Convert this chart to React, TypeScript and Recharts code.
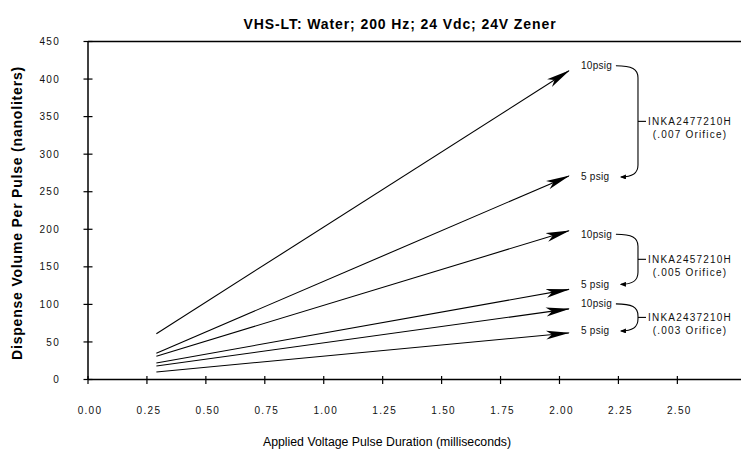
import { Line, LineChart, ReferenceArea, ReferenceLine, XAxis, YAxis } from "recharts";

// pulse duration (ms) at the start of each line and at the arrow tip
const durations = [0.29, 2.04];

// dispense volume (nL) per orifice / pressure
const orifice007_10psig = [61, 411];
const orifice007_5psig = [35, 271];
const orifice005_10psig = [31, 198];
const orifice005_5psig = [22, 120];
const orifice003_10psig = [18, 94];
const orifice003_5psig = [10, 62];

const xTicks = [0, 0.25, 0.5, 0.75, 1, 1.25, 1.5, 1.75, 2, 2.25, 2.5];
const yTicks = [0, 50, 100, 150, 200, 250, 300, 350, 400, 450];

const seriesKeys = ["o007_10", "o007_5", "o005_10", "o005_5", "o003_10", "o003_5"];

const data = durations.map((d, i) => ({
  duration: d,
  o007_10: orifice007_10psig[i],
  o007_5: orifice007_5psig[i],
  o005_10: orifice005_10psig[i],
  o005_5: orifice005_5psig[i],
  o003_10: orifice003_10psig[i],
  o003_5: orifice003_5psig[i],
}));

const groups = [
  { part: "INKA2477210H", orifice: "(.007 Orifice)", top: orifice007_10psig, bottom: orifice007_5psig, nudgeTop: -5, nudgeBottom: 1 },
  { part: "INKA2457210H", orifice: "(.005 Orifice)", top: orifice005_10psig, bottom: orifice005_5psig, nudgeTop: 3.5, nudgeBottom: -5 },
  { part: "INKA2437210H", orifice: "(.003 Orifice)", top: orifice003_10psig, bottom: orifice003_5psig, nudgeTop: -5, nudgeBottom: -2 },
];

const FONT = '"Liberation Sans", Arial, Helvetica, sans-serif';
const braceX = 2.333;
const last = durations.length - 1;

function YTick(props: any) {
  const { x, y, payload } = props;
  return (
    <g>
      <line x1={x - 4.5} x2={x + 4.5} y1={y} y2={y} stroke="#000" strokeWidth={1.2} />
      <text x={x - 28} y={y} dy={3.6} textAnchor="end" fontSize={10} letterSpacing={1.3} fill="#111" fontFamily={FONT}>
        {payload.value}
      </text>
    </g>
  );
}

function XTick(props: any) {
  const { x, y, payload } = props;
  return (
    <g>
      <line x1={x} x2={x} y1={y - 3.5} y2={y + 4.5} stroke="#000" strokeWidth={1.2} />
      <text x={x + 2} y={y + 34.5} textAnchor="middle" fontSize={10} letterSpacing={1.3} fill="#111" fontFamily={FONT}>
        {payload.value.toFixed(2)}
      </text>
    </g>
  );
}

function makeBrace(g: (typeof groups)[number]) {
  return (props: any) => {
    const { x, y, width, height } = props;
    const ty = y + g.nudgeTop;
    const by = y + height + g.nudgeBottom;
    const bx = x + width;
    const my = (ty + by) / 2;
    const r = Math.min(12, (by - ty) / 2);
    const lx = x + 12;
    const d =
      `M${x + 47},${ty} C${bx - 6},${ty} ${bx},${ty + 3} ${bx},${ty + r} ` +
      `L${bx},${by - r} C${bx},${by - 3} ${bx - 6},${by} ${x + 52},${by}`;
    return (
      <g fontFamily={FONT} fill="#111">
        <text x={lx} y={ty} dy={3.5} fontSize={10} letterSpacing={0.3}>10psig</text>
        <text x={lx} y={by} dy={3.5} fontSize={10} letterSpacing={0.3}>5 psig</text>
        <path d={d} fill="none" stroke="#000" strokeWidth={1.1} markerEnd="url(#braceArrow)" />
        <line x1={bx} x2={bx + 8} y1={my} y2={my} stroke="#000" strokeWidth={1.1} />
        <text x={bx + 52} y={my} dy={3.5} fontSize={10} letterSpacing={1.2} textAnchor="middle">{g.part}</text>
        <text x={bx + 52} y={my + 13} dy={3.5} fontSize={10} letterSpacing={1.2} textAnchor="middle">{g.orifice}</text>
      </g>
    );
  };
}

export default function App() {
  return (
    <div style={{ position: "absolute", left: 0, top: 0, width: 741, height: 449, background: "#fff" }}>
      <svg width={0} height={0} style={{ position: "absolute" }}>
        <defs>
          <marker id="arrowHead" viewBox="0 0 24 10" markerWidth={24} markerHeight={10} refX={23} refY={5} orient="auto" markerUnits="userSpaceOnUse">
            <path d="M0,0.5 L24,5 L0,9.5 L6,5 Z" fill="#000" />
          </marker>
          <marker id="braceArrow" viewBox="0 0 6 5" markerWidth={6} markerHeight={5} refX={5} refY={2.5} orient="auto" markerUnits="userSpaceOnUse">
            <path d="M0,0 L6,2.5 L0,5 Z" fill="#000" />
          </marker>
        </defs>
      </svg>
      <LineChart width={741} height={449} data={data} margin={{ top: 41.5, right: 0, bottom: 0, left: 0 }}>
        <text x={400} y={28.5} textAnchor="middle" fontSize={14} fontWeight="bold" letterSpacing={0.9} fontFamily={FONT} fill="#000">
          VHS-LT: Water; 200 Hz; 24 Vdc; 24V Zener
        </text>
        <text transform="translate(22,213) rotate(-90)" textAnchor="middle" fontSize={14} fontWeight="bold" letterSpacing={0.8} fontFamily={FONT} fill="#000">
          Dispense Volume Per Pulse (nanoliters)
        </text>
        <text x={387} y={446} textAnchor="middle" fontSize={12.3} fontFamily={FONT} fill="#000">
          Applied Voltage Pulse Duration (milliseconds)
        </text>
        <XAxis
          dataKey="duration"
          type="number"
          domain={[0, 2.77]}
          ticks={xTicks}
          height={69.5}
          tickSize={0}
          tickMargin={0}
          tickLine={false}
          axisLine={{ stroke: "#000", strokeWidth: 1.5 }}
          tick={<XTick />}
          interval={0}
        />
        <YAxis
          type="number"
          domain={[0, 450]}
          ticks={yTicks}
          width={88}
          tickSize={0}
          tickMargin={0}
          tickLine={false}
          axisLine={{ stroke: "#000", strokeWidth: 1.5 }}
          tick={<YTick />}
          interval={0}
        />
        <ReferenceLine y={450} stroke="#000" strokeWidth={1.5} />
        {seriesKeys.map((k) => (
          <Line
            key={k}
            dataKey={k}
            type="linear"
            stroke="#000"
            strokeWidth={1.1}
            dot={false}
            activeDot={false}
            markerEnd="url(#arrowHead)"
            isAnimationActive={false}
          />
        ))}
        {groups.map((g) => (
          <ReferenceArea
            key={g.part}
            x1={durations[last]}
            x2={braceX}
            y1={g.bottom[last]}
            y2={g.top[last]}
            shape={makeBrace(g)}
          />
        ))}
      </LineChart>
    </div>
  );
}
